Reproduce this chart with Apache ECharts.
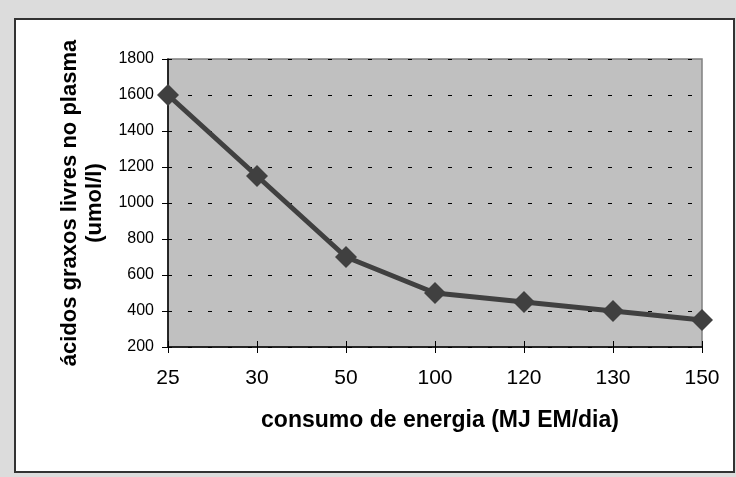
<!DOCTYPE html>
<html>
<head>
<meta charset="utf-8">
<script src="https://cdn.jsdelivr.net/npm/echarts@6/dist/echarts.min.js"></script>
<style>
html,body{margin:0;padding:0;background:#dcdcdc;}
#c{width:736px;height:477px;}
</style>
</head>
<body>
<div id="c"></div>
<script>
var categories = ['25', '30', '50', '100', '120', '130', '150'];
var values = [1600, 1150, 700, 500, 450, 400, 350];
var xTitle = 'consumo de energia (MJ EM/dia)';
var yTitle = 'ácidos graxos livres no plasma\n(umol/l)';

var chart = echarts.init(document.getElementById('c'));
var font = '"Liberation Sans", Arial, sans-serif';
chart.setOption({
  backgroundColor: '#dcdcdc',
  animation: false,
  graphic: [{
    type: 'rect', z: -10, silent: true,
    shape: {x: 15, y: 19, width: 719, height: 453},
    style: {fill: '#ffffff', stroke: '#333333', lineWidth: 2}
  }],
  grid: {
    left: 168, top: 59, right: 34, bottom: 130,
    show: true, backgroundColor: '#c0c0c0', borderColor: '#808080', borderWidth: 1.5
  },
  xAxis: [{
    type: 'category', data: categories, boundaryGap: false,
    name: xTitle, nameLocation: 'middle', nameGap: 62,
    nameTextStyle: {fontFamily: font, fontSize: 23, fontWeight: 'bold', color: '#000', padding: [0, 0, 0, 10]},
    axisLine: {lineStyle: {color: '#000', width: 1.5}},
    axisTick: {length: 6, lineStyle: {color: '#000', width: 1}},
    axisLabel: {fontFamily: font, fontSize: 21, color: '#000', margin: 21},
    splitLine: {show: false}
  }, {
    type: 'category', data: categories, boundaryGap: false, position: 'bottom',
    axisLine: {show: false},
    axisTick: {inside: true, length: 6, lineStyle: {color: '#000', width: 1}},
    axisLabel: {show: false},
    splitLine: {show: false}
  }],
  yAxis: {
    type: 'value', min: 200, max: 1800, interval: 200,
    name: yTitle, nameLocation: 'middle', nameGap: 55,
    nameTextStyle: {fontFamily: font, fontSize: 22, fontWeight: 'bold', color: '#000', lineHeight: 25},
    axisLine: {show: true, lineStyle: {color: '#000', width: 1.5}},
    axisTick: {show: true, length: 6, lineStyle: {color: '#000', width: 1}},
    axisLabel: {fontFamily: font, fontSize: 16, color: '#000', margin: 14,
      formatter: function (v) { return String(v); }},
    splitLine: {show: true, lineStyle: {color: '#000', width: 1, type: [4, 16]}}
  },
  series: [{
    type: 'line', data: values, xAxisIndex: 0,
    symbol: 'diamond', symbolSize: 22,
    lineStyle: {color: '#404040', width: 5},
    itemStyle: {color: '#404040'}
  }]
});
</script>
</body>
</html>
